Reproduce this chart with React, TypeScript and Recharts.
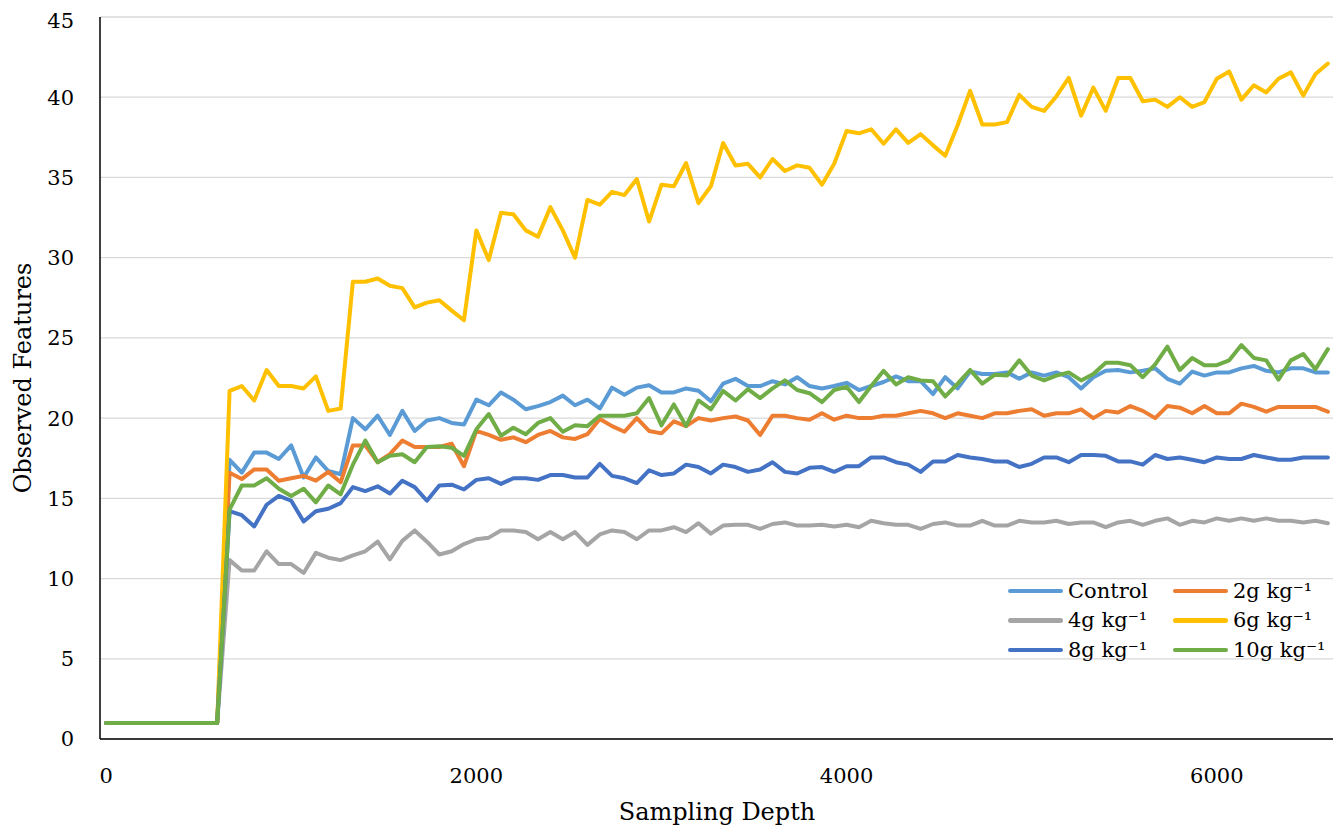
import React from 'react';
import { LineChart, Line, XAxis, YAxis, CartesianGrid, Legend } from 'recharts';

// sampling depths (x categories)
const depths = [
  0, 67, 133, 200, 267, 333, 400, 467, 533, 600,
  667, 733, 800, 867, 933, 1000, 1067, 1133, 1200, 1267,
  1333, 1400, 1467, 1533, 1600, 1667, 1733, 1800, 1867, 1933,
  2000, 2067, 2133, 2200, 2267, 2333, 2400, 2467, 2533, 2600,
  2667, 2733, 2800, 2867, 2933, 3000, 3067, 3133, 3200, 3267,
  3333, 3400, 3467, 3533, 3600, 3667, 3733, 3800, 3867, 3933,
  4000, 4067, 4133, 4200, 4267, 4333, 4400, 4467, 4533, 4600,
  4667, 4733, 4800, 4867, 4933, 5000, 5067, 5133, 5200, 5267,
  5333, 5400, 5467, 5533, 5600, 5667, 5733, 5800, 5867, 5933,
  6000, 6067, 6133, 6200, 6267, 6333, 6400, 6467, 6533, 6600,
];

const control = [
  1, 1, 1, 1, 1, 1, 1, 1, 1, 1,
  17.4, 16.6, 17.85, 17.85, 17.45, 18.3, 16.3, 17.55, 16.7, 16.5,
  20.0, 19.3, 20.15, 18.95, 20.45, 19.2, 19.85, 20.0, 19.7, 19.6,
  21.15, 20.8, 21.6, 21.15, 20.55, 20.75, 21.0, 21.4, 20.8, 21.15,
  20.6, 21.9, 21.45, 21.9, 22.05, 21.6, 21.6, 21.85, 21.7, 21.05,
  22.15, 22.45, 22.0, 22.0, 22.3, 22.1, 22.55, 22.0, 21.85, 22.0,
  22.2, 21.75, 22.0, 22.25, 22.6, 22.3, 22.3, 21.5, 22.55, 21.85,
  22.9, 22.75, 22.75, 22.85, 22.45, 22.85, 22.65, 22.85, 22.55, 21.85,
  22.55, 22.95, 23.0, 22.85, 22.95, 23.1, 22.45, 22.15, 22.9, 22.65,
  22.85, 22.85, 23.1, 23.25, 22.95, 22.85, 23.1, 23.1, 22.85, 22.85,
];

const g2 = [
  1, 1, 1, 1, 1, 1, 1, 1, 1, 1,
  16.6, 16.2, 16.8, 16.8, 16.1, 16.25, 16.4, 16.1, 16.65, 16.0,
  18.3, 18.3, 17.25, 17.75, 18.6, 18.2, 18.2, 18.2, 18.4, 17.0,
  19.2, 18.95, 18.65, 18.8, 18.5, 18.95, 19.2, 18.8, 18.7, 19.0,
  19.95, 19.5, 19.15, 20.0, 19.2, 19.05, 19.8, 19.5, 20.0, 19.85,
  20.0, 20.1, 19.85, 18.95, 20.15, 20.15, 20.0, 19.9, 20.3, 19.9,
  20.15, 20.0, 20.0, 20.15, 20.15, 20.3, 20.45, 20.3, 20.0, 20.3,
  20.15, 20.0, 20.3, 20.3, 20.45, 20.55, 20.15, 20.3, 20.3, 20.55,
  20.0, 20.45, 20.35, 20.75, 20.45, 20.0, 20.75, 20.65, 20.3, 20.75,
  20.3, 20.3, 20.9, 20.7, 20.4, 20.7, 20.7, 20.7, 20.7, 20.4,
];

const g4 = [
  1, 1, 1, 1, 1, 1, 1, 1, 1, 1,
  11.15, 10.5, 10.5, 11.7, 10.9, 10.9, 10.35, 11.6, 11.3, 11.15,
  11.45, 11.7, 12.3, 11.2, 12.35, 13.0, 12.3, 11.5, 11.7, 12.15,
  12.45, 12.55, 13.0, 13.0, 12.9, 12.45, 12.9, 12.45, 12.9, 12.1,
  12.75, 13.0, 12.9, 12.45, 13.0, 13.0, 13.2, 12.9, 13.45, 12.8,
  13.3, 13.35, 13.35, 13.1, 13.4, 13.5, 13.3, 13.3, 13.35, 13.25,
  13.35, 13.2, 13.6, 13.45, 13.35, 13.35, 13.1, 13.4, 13.5, 13.3,
  13.3, 13.6, 13.3, 13.3, 13.6, 13.5, 13.5, 13.6, 13.4, 13.5,
  13.5, 13.2, 13.5, 13.6, 13.35, 13.6, 13.75, 13.35, 13.6, 13.5,
  13.75, 13.6, 13.75, 13.6, 13.75, 13.6, 13.6, 13.5, 13.6, 13.45,
];

const g6 = [
  1, 1, 1, 1, 1, 1, 1, 1, 1, 1,
  21.7, 22.0, 21.1, 23.0, 22.0, 22.0, 21.85, 22.6, 20.45, 20.6,
  28.5, 28.5, 28.7, 28.25, 28.1, 26.9, 27.2, 27.35, 26.7, 26.1,
  31.7, 29.85, 32.8, 32.7, 31.7, 31.3, 33.15, 31.7, 30.0, 33.6,
  33.3, 34.1, 33.9, 34.9, 32.25, 34.55, 34.45, 35.9, 33.4, 34.45,
  37.15, 35.75, 35.85, 35.0, 36.15, 35.4, 35.75, 35.6, 34.55, 35.85,
  37.9, 37.75, 38.0, 37.1, 38.0, 37.15, 37.7, 37.0, 36.35, 38.25,
  40.4, 38.3, 38.3, 38.45, 40.15, 39.4, 39.15, 40.05, 41.2, 38.85,
  40.6, 39.15, 41.2, 41.2, 39.75, 39.85, 39.4, 40.0, 39.4, 39.7,
  41.15, 41.6, 39.85, 40.75, 40.3, 41.15, 41.55, 40.1, 41.45, 42.1,
];

const g8 = [
  1, 1, 1, 1, 1, 1, 1, 1, 1, 1,
  14.2, 13.95, 13.25, 14.6, 15.15, 14.85, 13.55, 14.2, 14.35, 14.7,
  15.7, 15.45, 15.75, 15.3, 16.1, 15.7, 14.85, 15.8, 15.85, 15.55,
  16.15, 16.25, 15.9, 16.25, 16.25, 16.15, 16.45, 16.45, 16.3, 16.3,
  17.15, 16.4, 16.25, 15.95, 16.75, 16.45, 16.55, 17.1, 16.95, 16.55,
  17.1, 16.95, 16.65, 16.8, 17.25, 16.65, 16.55, 16.9, 16.95, 16.65,
  17.0, 17.0, 17.55, 17.55, 17.25, 17.1, 16.65, 17.3, 17.3, 17.7,
  17.55, 17.45, 17.3, 17.3, 16.95, 17.15, 17.55, 17.55, 17.25, 17.7,
  17.7, 17.65, 17.3, 17.3, 17.1, 17.7, 17.45, 17.55, 17.4, 17.25,
  17.55, 17.45, 17.45, 17.7, 17.55, 17.4, 17.4, 17.55, 17.55, 17.55,
];

const g10 = [
  1, 1, 1, 1, 1, 1, 1, 1, 1, 1,
  14.3, 15.8, 15.8, 16.25, 15.6, 15.15, 15.6, 14.75, 15.8, 15.25,
  17.1, 18.6, 17.25, 17.65, 17.75, 17.25, 18.2, 18.25, 18.15, 17.65,
  19.3, 20.25, 18.9, 19.4, 19.0, 19.7, 20.0, 19.15, 19.55, 19.5,
  20.15, 20.15, 20.15, 20.3, 21.25, 19.55, 20.85, 19.5, 21.1, 20.55,
  21.7, 21.1, 21.8, 21.25, 21.85, 22.35, 21.75, 21.55, 21.0, 21.75,
  21.95, 21.0, 22.0, 22.95, 22.1, 22.55, 22.35, 22.3, 21.35, 22.15,
  23.0, 22.15, 22.7, 22.65, 23.6, 22.65, 22.35, 22.65, 22.85, 22.35,
  22.75, 23.45, 23.45, 23.3, 22.55, 23.35, 24.45, 23.0, 23.75, 23.3,
  23.3, 23.6, 24.55, 23.75, 23.6, 22.4, 23.6, 24.0, 23.05, 24.3,
];

const xTicks = [0, 2000, 4000, 6000];
const yTicks = [0, 5, 10, 15, 20, 25, 30, 35, 40, 45];

const series = [
  { key: 'control', name: 'Control', color: '#5B9BD5' },
  { key: 'g2', name: '2g kg⁻¹', color: '#ED7D31' },
  { key: 'g4', name: '4g kg⁻¹', color: '#A5A5A5' },
  { key: 'g6', name: '6g kg⁻¹', color: '#FFC000' },
  { key: 'g8', name: '8g kg⁻¹', color: '#4472C4' },
  { key: 'g10', name: '10g kg⁻¹', color: '#70AD47' },
];

const data = depths.map((depth, i) => ({
  depth,
  control: control[i],
  g2: g2[i],
  g4: g4[i],
  g6: g6[i],
  g8: g8[i],
  g10: g10[i],
}));

const FONT = '"DejaVu Serif", serif';

function LegendBox() {
  return (
    <div style={{ display: 'grid', gridTemplateColumns: '165px 165px', fontFamily: FONT, fontSize: 21, color: '#000' }}>
      {series.map(s => (
        <div key={s.key} style={{ display: 'flex', alignItems: 'center', height: 29.5 }}>
          <span style={{ display: 'inline-block', width: 55, height: 4.5, borderRadius: 3, background: s.color, marginRight: 5 }} />
          <span style={{ whiteSpace: 'nowrap' }}>{s.name}</span>
        </div>
      ))}
    </div>
  );
}

export default function App() {
  return (
    <div style={{ fontFamily: FONT }}>
      <LineChart width={1330} height={822} data={data} margin={{ top: 9, right: 4, bottom: 0, left: 0 }}>
        <CartesianGrid horizontal vertical={false} stroke="#D9D9D9" strokeWidth={1.3} />
        <XAxis
          dataKey="depth"
          type="number"
          domain={[-33, 6633]}
          ticks={xTicks}
          height={91}
          tickLine={false}
          tickSize={0}
          tickMargin={29}
          axisLine={{ stroke: '#000', strokeWidth: 1.5 }}
          tick={{ fill: '#000', fontSize: 21, fontFamily: FONT }}
          label={{ value: 'Sampling Depth', position: 'insideBottom', offset: 10, fill: '#000', fontSize: 24, fontFamily: FONT }}
        />
        <YAxis
          type="number"
          domain={[0, 45]}
          ticks={yTicks}
          width={92}
          tickLine={false}
          tickSize={0}
          tickMargin={26}
          axisLine={{ stroke: '#000', strokeWidth: 1.5 }}
          tick={{ fill: '#000', fontSize: 21, fontFamily: FONT }}
          label={{ value: 'Observed Features', angle: -90, position: 'insideLeft', offset: 14, fill: '#000', fontSize: 24, fontFamily: FONT, style: { textAnchor: 'middle' } }}
        />
        <Legend
          layout="horizontal"
          verticalAlign="middle"
          align="center"
          wrapperStyle={{ left: 1000, top: 568, width: 330, height: 89 }}
          content={() => <LegendBox />}
        />
        {series.map(s => (
          <Line
            key={s.key}
            type="linear"
            dataKey={s.key}
            name={s.name}
            stroke={s.color}
            strokeWidth={4}
            strokeLinejoin="round"
            strokeLinecap="round"
            dot={false}
            activeDot={false}
            isAnimationActive={false}
          />
        ))}
      </LineChart>
    </div>
  );
}
